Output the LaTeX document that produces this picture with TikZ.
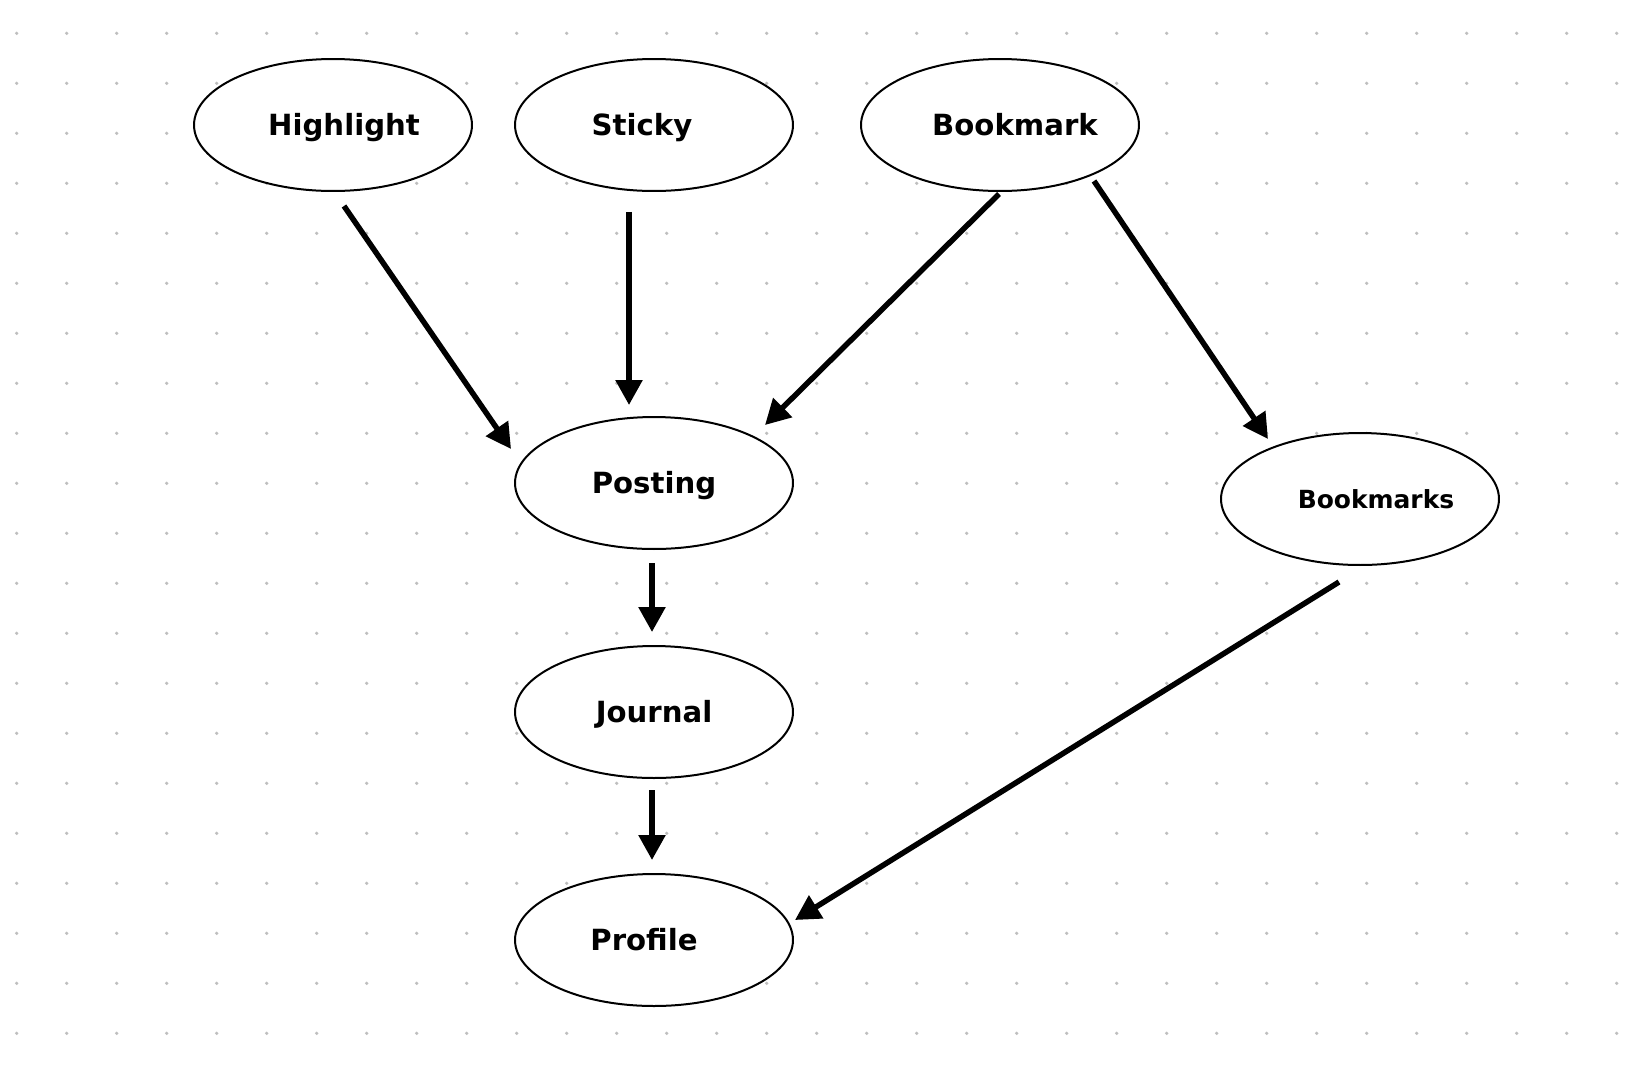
\documentclass[tikz,border=0pt]{standalone}
\usepackage{fontspec}
\setmainfont{DejaVu Sans}
\usetikzlibrary{shapes.geometric,arrows.meta}
\definecolor{dotgrey}{RGB}{190,190,190}

\begin{document}
\begin{tikzpicture}[x=0.02cm,y=-0.02cm,
    blob/.style={ellipse,draw,fill=white,line width=0.04cm,minimum width=5.56cm,minimum height=2.64cm,inner sep=0pt,text height=0.42cm,text depth=0cm,font=\fontsize{16.6}{19}\selectfont\bfseries},
    arr/.style={line width=0.11cm,-{Triangle[length=0.5cm,width=0.52cm]}}]
	\useasboundingbox (0,0) rectangle (1626,1066);
	\fill[white] (0,0) rectangle (1626,1066);
	% dot grid
	\foreach \i in {0,...,32}
		\foreach \j in {0,...,20}
			\fill[dotgrey] (16.7+50*\i,33.3+50*\j) circle (0.036cm);
	% nodes
	\node[blob] (hl) at (333,125) {\hspace*{0.44cm}Highlight};
	\node[blob] (st) at (654,125) {\hspace*{-0.48cm}Sticky};
	\node[blob] (bm) at (1000,125) {\hspace*{0.6cm}Bookmark};
	\node[blob] (post) at (654,483) {Posting};
	\node[blob,text height=0.36cm,font=\fontsize{14.2}{17}\selectfont\bfseries] (bms) at (1360,499) {\hspace*{0.64cm}Bookmarks};
	\node[blob] (jn) at (654,712) {Journal};
	\node[blob] (pf) at (654,940) {\hspace*{-0.4cm}Profile};
	% arrows
	\draw[arr] ([shift={(11,14)}]hl.south) -- ([shift={(-3,-34)}]post.west);
	\draw[arr] ([shift={(-25,20)}]st.south) -- ([shift={(-25,-11)}]post.north);
	\draw[arr] ([shift={(-1,2)}]bm.south) -- ([shift={(111,9)}]post.north);
	\draw[arr] ([shift={(94,-11)}]bm.south) -- ([shift={(-92,7)}]bms.north);
	\draw[arr] ([shift={(-2,13)}]post.south) -- ([shift={(-2,-13)}]jn.north);
	\draw[arr] ([shift={(-2,11)}]jn.south) -- ([shift={(-2,-13)}]pf.north);
	\draw[arr] ([shift={(-21,16)}]bms.south) -- ([shift={(1,-20)}]pf.east);
\end{tikzpicture}
\end{document}
